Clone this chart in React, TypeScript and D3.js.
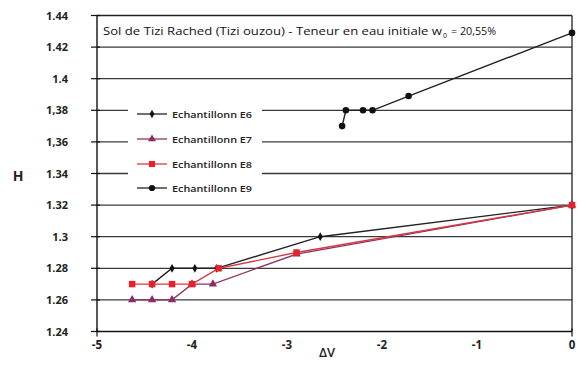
import React from "react";
import * as d3 from "d3";

const seriesNames = ["Echantillonn E6", "Echantillonn E7", "Echantillonn E8", "Echantillonn E9"];
const e6DV = [-4.42, -4.21, -3.97, -3.74, -2.65, 0];
const e6H = [1.27, 1.28, 1.28, 1.28, 1.3, 1.32];
const e7DV = [-4.63, -4.42, -4.21, -4.0, -3.78, -2.9, 0];
const e7H = [1.26, 1.26, 1.26, 1.27, 1.27, 1.289, 1.32];
const e8DV = [-4.63, -4.42, -4.21, -4.0, -3.72, -2.9, 0];
const e8H = [1.27, 1.27, 1.27, 1.27, 1.28, 1.29, 1.32];
const e9DV = [-2.42, -2.38, -2.2, -2.1, -1.72, 0];
const e9H = [1.37, 1.38, 1.38, 1.38, 1.389, 1.429];
const yTicks = [1.44, 1.42, 1.4, 1.38, 1.36, 1.34, 1.32, 1.3, 1.28, 1.26, 1.24];
const yTickLabels = ["1.44", "1.42", "1.4", "1,38", "1,36", "1.34", "1.32", "1.3", "1.28", "1.26", "1.24"];
const xTicks = [-5, -4, -3, -2, -1, 0];
const xTickLabels = ["-5", "-4", "-3", "-2", "-1", "0"];

const W = 580, H = 369;
const x = d3.scaleLinear().domain([-5, 0]).range([97, 572]);
const y = d3.scaleLinear().domain([1.24, 1.44]).range([331.5, 15.5]);

type S = { name: string; dv: number[]; h: number[]; color: string; line: string; sym: d3.SymbolType; size: number };
const series: S[] = [
  { name: seriesNames[0], dv: e6DV, h: e6H, color: "#111", line: "#222", sym: d3.symbolDiamond, size: 22 },
  { name: seriesNames[1], dv: e7DV, h: e7H, color: "#8e2a64", line: "#8a3560", sym: d3.symbolTriangle, size: 30 },
  { name: seriesNames[2], dv: e8DV, h: e8H, color: "#e5222c", line: "#d8383f", sym: d3.symbolSquare, size: 42 },
  { name: seriesNames[3], dv: e9DV, h: e9H, color: "#111", line: "#222", sym: d3.symbolCircle, size: 34 },
];

const font = "'Open Sans', 'Liberation Sans', sans-serif";

export default function App() {
  const line = d3.line<[number, number]>().x((d) => x(d[0])).y((d) => y(d[1]));
  const legendRows = [114, 139, 164, 188];
  return (
    <svg width={W} height={H} style={{ position: "absolute", left: 0, top: 0, background: "#fff" }} fontFamily={font}>
      <rect x={0} y={0} width={W} height={H} fill="#fff" />
      {/* gridlines */}
      {yTicks.slice(1, -1).map((t) => (
        <line key={t} x1={x(-5)} x2={x(0)} y1={y(t)} y2={y(t)} stroke="#3a3a3a" strokeWidth={1.3} />
      ))}
      {/* frame */}
      <line x1={x(-5)} x2={x(0)} y1={y(1.44)} y2={y(1.44)} stroke="#222" strokeWidth={1.3} />
      <line x1={x(0)} x2={x(0)} y1={y(1.44)} y2={y(1.24)} stroke="#222" strokeWidth={1.3} />
      <line x1={x(-5)} x2={x(-5)} y1={y(1.44)} y2={y(1.24)} stroke="#111" strokeWidth={1.4} />
      <line x1={x(-5)} x2={x(0)} y1={y(1.24)} y2={y(1.24)} stroke="#111" strokeWidth={1.4} />
      {yTicks.map((t) => (
        <line key={"yt" + t} x1={x(-5) - 6} x2={x(-5) + 3} y1={y(t)} y2={y(t)} stroke="#111" strokeWidth={1.2} />
      ))}
      {[-5, 0].map((t) => (
        <line key={"xt" + t} x1={x(t)} x2={x(t)} y1={y(1.24) - 3} y2={y(1.24) + 5} stroke="#111" strokeWidth={1.2} />
      ))}
      {/* title */}
      <text x={103} y={35} fontSize={11} fill="#111" textLength={339} lengthAdjust="spacingAndGlyphs">
        Sol de Tizi Rached (Tizi ouzou) - Teneur en eau initiale w
      </text>
      <text x={443} y={38} fontSize={7} fill="#111">0</text>
      <text x={451} y={35} fontSize={11} fill="#111" textLength={45} lengthAdjust="spacingAndGlyphs">= 20,55%</text>
      {/* legend box */}
      <rect x={128} y={100} width={134} height={98} fill="#fff" />
      {series.map((s, i) => (
        <g key={"lg" + i}>
          <line x1={137} x2={167} y1={legendRows[i]} y2={legendRows[i]} stroke={s.line} strokeWidth={1.3} />
          <path d={d3.symbol(s.sym, s.size * 0.9)() || ""} transform={`translate(152,${legendRows[i]})`} fill={s.color} />
          <text x={172} y={legendRows[i] + 3.5} fontSize={9.5} fontWeight={600} fill="#222" textLength={80} lengthAdjust="spacingAndGlyphs">
            {s.name}
          </text>
        </g>
      ))}
      {/* series */}
      {series.map((s, i) => {
        const pts = s.dv.map((v, j) => [v, s.h[j]] as [number, number]);
        return (
          <g key={"s" + i}>
            <path d={line(pts) || ""} fill="none" stroke={s.line} strokeWidth={1.4} />
            {pts.map((p, j) => (
              <path key={j} d={d3.symbol(s.sym, s.size)() || ""} transform={`translate(${x(p[0])},${y(p[1])})`} fill={s.color} />
            ))}
          </g>
        );
      })}
      {/* y labels */}
      {yTicks.map((t, i) => (
        <text key={"yl" + t} x={68} y={y(t) + 4} textAnchor="end" fontSize={11} fontWeight={700} fill="#222">
          {yTickLabels[i]}
        </text>
      ))}
      <text x={18} y={181} textAnchor="middle" fontSize={14} fontWeight={700} fill="#222">H</text>
      {xTicks.map((t, i) => (
        <text key={"xl" + t} x={x(t)} y={349} textAnchor="middle" fontSize={11.5} fontWeight={700} fill="#222">
          {xTickLabels[i]}
        </text>
      ))}
      <text x={327} y={357} textAnchor="middle" fontSize={13} fontWeight={600} fill="#222">ΔV</text>
    </svg>
  );
}
